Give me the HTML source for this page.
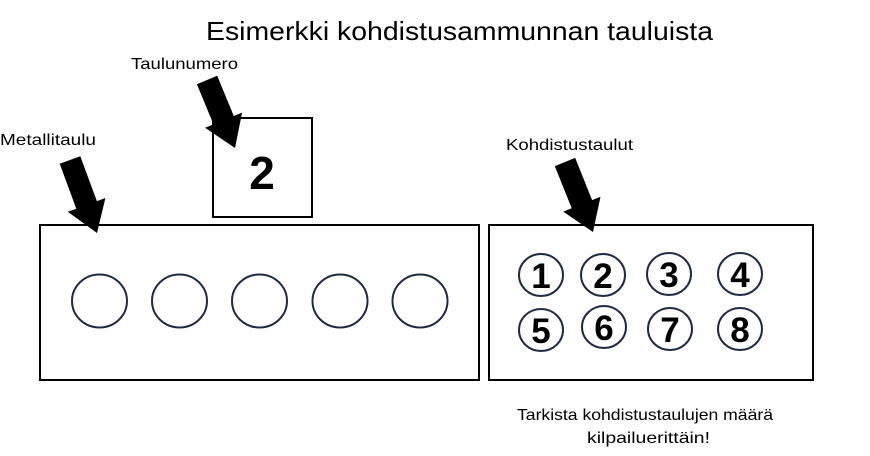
<!DOCTYPE html>
<html><head><meta charset="utf-8"><style>
html,body{margin:0;padding:0;background:#fff;}
svg{display:block;}
text{font-family:"Liberation Sans",sans-serif;fill:#000;}
</style></head><body>
<svg width="870" height="456" viewBox="0 0 870 456" xmlns="http://www.w3.org/2000/svg">
<text x="206" y="40" font-size="26" textLength="507" lengthAdjust="spacingAndGlyphs">Esimerkki kohdistusammunnan tauluista</text>
<text x="131" y="69" font-size="16" textLength="107" lengthAdjust="spacingAndGlyphs">Taulunumero</text>
<text x="0" y="145" font-size="16" textLength="96" lengthAdjust="spacingAndGlyphs">Metallitaulu</text>
<text x="506" y="150" font-size="16" textLength="127" lengthAdjust="spacingAndGlyphs">Kohdistustaulut</text>
<text x="517" y="420" font-size="16" textLength="256" lengthAdjust="spacingAndGlyphs">Tarkista kohdistustaulujen määrä</text>
<text x="587" y="443" font-size="16" textLength="123" lengthAdjust="spacingAndGlyphs">kilpailuerittäin!</text>

<polygon points="80.3,156.2 96.9,201.1 105.4,198 97,233 67.8,211.8 76.3,208.7 59.7,163.8" fill="#000"/>
<polygon points="217.2,75.8 233.8,116 242.1,112.6 235,148 205.1,127.8 213.5,124.4 196.9,84.2" fill="#000"/>
<polygon points="575.2,157.9 592.1,200.1 600.5,196.8 593,232 563.3,211.6 571.7,208.3 554.8,166.1" fill="#000"/>

<rect x="213" y="118" width="99" height="99" fill="none" stroke="#000" stroke-width="2"/>
<text x="262" y="189" font-size="46" font-weight="bold" text-anchor="middle">2</text>

<rect x="40" y="225" width="439" height="155" fill="none" stroke="#000" stroke-width="2"/>
<rect x="489" y="225" width="324" height="155" fill="none" stroke="#000" stroke-width="2"/>

<g fill="none" stroke="#1f2a44" stroke-width="2">
<ellipse cx="99.5" cy="301" rx="27.5" ry="26.5"/>
<ellipse cx="179.5" cy="301" rx="27.5" ry="26.5"/>
<ellipse cx="259.5" cy="301" rx="27.5" ry="26.5"/>
<ellipse cx="340" cy="301" rx="27.5" ry="26.5"/>
<ellipse cx="420" cy="301" rx="27.5" ry="26.5"/>
<ellipse cx="541" cy="275" rx="22" ry="21"/>
<ellipse cx="603" cy="275" rx="22" ry="21"/>
<ellipse cx="669" cy="274" rx="22" ry="21"/>
<ellipse cx="740" cy="274" rx="22" ry="21"/>
<ellipse cx="541" cy="330" rx="22" ry="21"/>
<ellipse cx="604" cy="327" rx="22" ry="21"/>
<ellipse cx="670" cy="329" rx="22" ry="21"/>
<ellipse cx="740" cy="329" rx="22" ry="21"/>
</g>
<g font-size="35" font-weight="bold" text-anchor="middle">
<text x="541" y="288">1</text>
<text x="603" y="288">2</text>
<text x="669" y="287">3</text>
<text x="740" y="287">4</text>
<text x="541" y="343">5</text>
<text x="604" y="340">6</text>
<text x="670" y="342">7</text>
<text x="740" y="342">8</text>
</g>
</svg>
</body></html>
